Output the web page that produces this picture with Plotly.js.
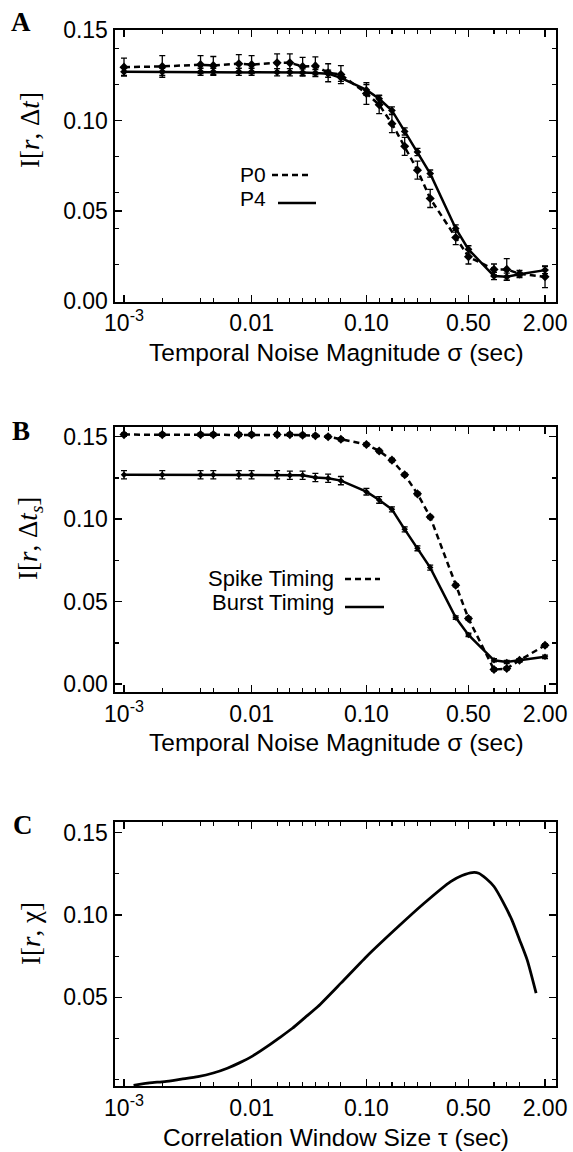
<!DOCTYPE html>
<html>
<head>
<meta charset="utf-8">
<script src="https://cdn.plot.ly/plotly-3.0.1.min.js"></script>
<style>
  html, body { margin: 0; padding: 0; background: #fff; }
  #chart { width: 573px; height: 1152px; }
</style>
</head>
<body>
<div id="chart"></div>
<script>
// ---------------- DATA ----------------
// x positions of the sampled noise magnitudes on the (non-uniform) sigma axis
const sigmaPos = [0, 3, 6, 7, 9, 10, 12, 13, 14, 15, 16, 17, 19, 20, 21, 22, 23, 24, 26, 27, 29, 30, 31, 33];
// labelled ticks
const tickPos = [0, 10, 19, 27, 33];
const tickLabels = ['10<sup>-3</sup>', '0.01', '0.10', '0.50', '2.00'];

// Panel A
const p0Values = [0.1296, 0.130, 0.131, 0.1305, 0.1315, 0.131, 0.132, 0.132, 0.130, 0.1303, 0.1265, 0.1255,
                  0.115, 0.1088, 0.0983, 0.0857, 0.0725, 0.0568, 0.0352, 0.0245, 0.0175, 0.0175, 0.015, 0.0134];
const p0Err    = [0.005, 0.006, 0.005, 0.005, 0.005, 0.005, 0.005, 0.005, 0.005, 0.005, 0.005, 0.005,
                  0.006, 0.005, 0.005, 0.005, 0.005, 0.005, 0.004, 0.004, 0.003, 0.006, 0.002, 0.006];
const p4Values = [0.127, 0.127, 0.127, 0.127, 0.127, 0.127, 0.1268, 0.1268, 0.1266, 0.1263, 0.126, 0.1237,
                  0.117, 0.1121, 0.1056, 0.094, 0.0826, 0.0706, 0.0402, 0.0286, 0.0138, 0.0134, 0.0148, 0.0171];
const p4Err    = [0.002, 0.002, 0.002, 0.002, 0.002, 0.002, 0.002, 0.002, 0.002, 0.002, 0.002, 0.002,
                  0.003, 0.002, 0.002, 0.002, 0.002, 0.002, 0.002, 0.002, 0.002, 0.002, 0.001, 0.002];

// Panel B
const spikeValues = [0.1513, 0.1513, 0.1513, 0.1513, 0.1513, 0.1513, 0.1513, 0.1513, 0.151, 0.1506, 0.150, 0.1485,
                     0.1453, 0.1414, 0.1358, 0.127, 0.1154, 0.1014, 0.060, 0.0398, 0.0089, 0.0095, 0.0145, 0.0236];
const spikeErr    = [0.001, 0.001, 0.001, 0.001, 0.001, 0.001, 0.001, 0.001, 0.001, 0.001, 0.001, 0.001,
                     0.001, 0.001, 0.001, 0.001, 0.001, 0.001, 0.001, 0.001, 0.001, 0.001, 0.001, 0.001];
const burstValues = [0.127, 0.127, 0.127, 0.127, 0.127, 0.127, 0.127, 0.1267, 0.1267, 0.1253, 0.1248, 0.1234,
                     0.1167, 0.1117, 0.106, 0.0939, 0.0824, 0.0707, 0.0404, 0.0299, 0.0145, 0.0135, 0.0145, 0.0166];
const burstErr    = [0.0025, 0.0025, 0.0025, 0.0025, 0.0025, 0.0025, 0.0025, 0.0025, 0.0025, 0.0025, 0.0025, 0.0025,
                     0.002, 0.002, 0.0015, 0.0015, 0.0015, 0.0015, 0.001, 0.001, 0.001, 0.001, 0.001, 0.001];

// Panel C (continuous curve; x on the same tau axis positions)
const tauPos    = [0.75, 2, 3.2, 4.5, 5.8, 7, 8.1, 9, 10.1, 11.2, 12.2, 13.2, 14.2, 15.2, 17, 19, 21.5, 23.5,
                   25.6, 26.5, 27.3, 27.8, 28.4, 29, 29.7, 30.4, 31, 31.6, 32.3];
const chiValues = [-0.0035, -0.002, -0.0012, 0.0003, 0.0018, 0.004, 0.0069, 0.010, 0.0144, 0.020, 0.0255, 0.0312,
                   0.0378, 0.0444, 0.0586, 0.0747, 0.093, 0.107, 0.1203, 0.124, 0.1258, 0.1254, 0.122, 0.1173,
                   0.108, 0.097, 0.085, 0.0727, 0.0525];

// ---------------- LAYOUT HELPERS ----------------
const W = 573, H = 1152;
const fx = x => x / W;
const fy = y => 1 - y / H;
const SANS = 'Liberation Sans, Arial, sans-serif';
const SERIF = 'Liberation Serif, Times New Roman, serif';
const xDom = [fx(114.5), fx(556)];
const xRange = [-0.745, 33.86];

function xAxis(anchor) {
  return {
    domain: xDom, anchor: anchor, range: xRange,
    tickmode: 'array', tickvals: tickPos, ticktext: tickLabels,
    ticks: 'inside', ticklen: 7, tickwidth: 1.5, tickcolor: '#000',
    minor: { tickmode: 'array', tickvals: sigmaPos, ticks: 'inside', ticklen: 4, tickwidth: 1.2, tickcolor: '#000' },
    showline: true, linewidth: 2, linecolor: '#000', mirror: 'ticks',
    showgrid: false, zeroline: false,
    tickfont: { family: SANS, size: 23, color: '#000' }
  };
}
function yAxis(anchor, dom, range, vals, texts, minorDt) {
  return {
    domain: dom, anchor: anchor, range: range,
    tickmode: 'array', tickvals: vals, ticktext: texts,
    ticks: 'inside', ticklen: 7, tickwidth: 1.5, tickcolor: '#000',
    minor: { dtick: minorDt, tick0: 0, ticks: 'inside', ticklen: 4, tickwidth: 1.2, tickcolor: '#000' },
    showline: true, linewidth: 2, linecolor: '#000', mirror: 'ticks',
    showgrid: false, zeroline: false,
    tickfont: { family: SANS, size: 23, color: '#000' }
  };
}

const blk = '#000';
const traces = [
  { x: sigmaPos, y: p0Values, xaxis: 'x', yaxis: 'y', type: 'scatter', mode: 'lines+markers', name: 'P0',
    line: { color: blk, width: 2.5, dash: '6px,4px' }, marker: { symbol: 'diamond', size: 7, color: blk },
    error_y: { type: 'data', array: p0Err, visible: true, color: blk, thickness: 1.3, width: 3 } },
  { x: sigmaPos, y: p4Values, xaxis: 'x', yaxis: 'y', type: 'scatter', mode: 'lines+markers', name: 'P4',
    line: { color: blk, width: 2.5 }, marker: { symbol: 'diamond', size: 6, color: blk },
    error_y: { type: 'data', array: p4Err, visible: true, color: blk, thickness: 1.3, width: 3 } },
  { x: sigmaPos, y: spikeValues, xaxis: 'x2', yaxis: 'y2', type: 'scatter', mode: 'lines+markers', name: 'Spike Timing',
    line: { color: blk, width: 2.5, dash: '6px,4px' }, marker: { symbol: 'diamond', size: 7, color: blk },
    error_y: { type: 'data', array: spikeErr, visible: true, color: blk, thickness: 1.3, width: 3 } },
  { x: sigmaPos, y: burstValues, xaxis: 'x2', yaxis: 'y2', type: 'scatter', mode: 'lines+markers', name: 'Burst Timing',
    line: { color: blk, width: 2.5 }, marker: { symbol: 'diamond', size: 5, color: blk },
    error_y: { type: 'data', array: burstErr, visible: true, color: blk, thickness: 1.3, width: 3 } },
  { x: tauPos, y: chiValues, xaxis: 'x3', yaxis: 'y3', type: 'scatter', mode: 'lines', name: 'I[r, chi]',
    line: { color: blk, width: 2.8, shape: 'spline', smoothing: 0.6 } }
];

const ann = (x, y, text, size, family, extra) => Object.assign({
  xref: 'paper', yref: 'paper', x: fx(x), y: fy(y), text: text, showarrow: false,
  xanchor: 'center', yanchor: 'middle', font: { family: family, size: size, color: '#000' }
}, extra || {});

const layout = {
  width: W, height: H,
  margin: { l: 0, r: 0, t: 0, b: 0 },
  paper_bgcolor: '#fff', plot_bgcolor: '#fff',
  showlegend: false,
  xaxis: xAxis('y'),
  yaxis: yAxis('x', [fy(301.5), fy(30)], [-0.0003, 0.1502], [0, 0.05, 0.10, 0.15], ['0.00', '0.05', '0.10', '0.15'], 0.02),
  xaxis2: xAxis('y2'),
  yaxis2: yAxis('x2', [fy(692), fy(427)], [-0.0047, 0.1559], [0, 0.05, 0.10, 0.15], ['0.00', '0.05', '0.10', '0.15'], 0.025),
  xaxis3: xAxis('y3'),
  yaxis3: yAxis('x3', [fy(1086), fy(822)], [-0.0039, 0.1565], [0.05, 0.10, 0.15], ['0.05', '0.10', '0.15'], 0.025),
  annotations: [
    ann(21, 22, '<b>A</b>', 27, SERIF),
    ann(21, 431, '<b>B</b>', 27, SERIF),
    ann(23, 825, '<b>C</b>', 27, SERIF),
    ann(30, 130, 'I[<i>r</i>, Δ<i>t</i>]', 27, SERIF, { textangle: -90 }),
    ann(30, 539, 'I[<i>r</i>, Δ<i>t</i><sub><i>s</i></sub>]', 27, SERIF, { textangle: -90 }),
    ann(31, 934, 'I[<i>r</i>, χ]', 27, SERIF, { textangle: -90 }),
    ann(336, 352, 'Temporal Noise Magnitude σ (sec)', 24.5, SANS),
    ann(336, 742, 'Temporal Noise Magnitude σ (sec)', 24.5, SANS),
    ann(336, 1137, 'Correlation Window Size τ (sec)', 24.5, SANS),
    ann(268, 174.5, 'P0', 21, SANS, { xanchor: 'right' }),
    ann(268, 198.5, 'P4', 21, SANS, { xanchor: 'right' }),
    ann(336, 578, 'Spike Timing', 22, SANS, { xanchor: 'right' }),
    ann(336, 602, 'Burst Timing', 22, SANS, { xanchor: 'right' })
  ],
  shapes: [
    { type: 'line', xref: 'paper', yref: 'paper', x0: fx(272), x1: fx(312), y0: fy(175), y1: fy(175),
      line: { color: blk, width: 2.5, dash: '6px,4px' } },
    { type: 'line', xref: 'paper', yref: 'paper', x0: fx(278), x1: fx(316), y0: fy(203), y1: fy(203),
      line: { color: blk, width: 2.5 } },
    { type: 'line', xref: 'paper', yref: 'paper', x0: fx(345), x1: fx(380), y0: fy(579), y1: fy(579),
      line: { color: blk, width: 2.5, dash: '6px,4px' } },
    { type: 'line', xref: 'paper', yref: 'paper', x0: fx(345), x1: fx(384), y0: fy(607), y1: fy(607),
      line: { color: blk, width: 2.5 } }
  ]
};

Plotly.newPlot('chart', traces, layout, { staticPlot: true, displayModeBar: false });
</script>
</body>
</html>
